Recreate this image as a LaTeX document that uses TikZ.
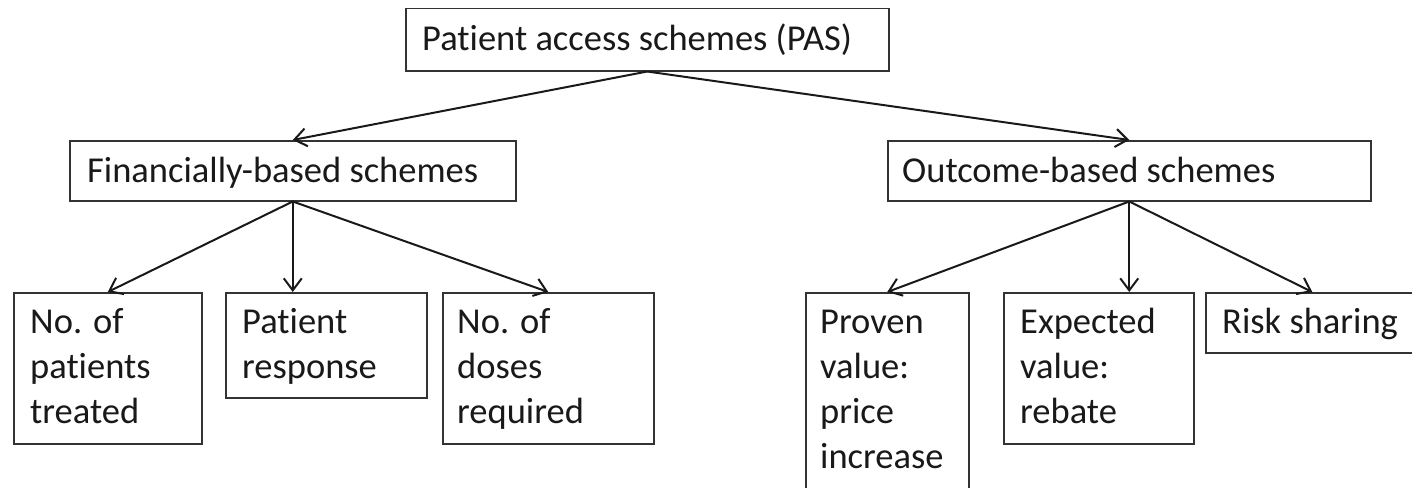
\documentclass[tikz,border=0pt]{standalone}
\usepackage{fontspec}
\setmainfont[Ligatures=NoCommon]{Carlito}
\usetikzlibrary{arrows.meta,calc}

% Box given by its corners (x1,y1) and (x2,y2), y measured downwards
\newcommand\schemebox[5]{%
  \node[frame, minimum width={(#4-#2)*1pt}, minimum height={(#5-#3)*1pt}] (#1) at (#2,#3) {};}

\begin{document}
\begin{tikzpicture}[x=1pt, y=-1pt,
  frame/.style={draw=black!80, line width=1.5pt, anchor=north west, inner sep=0pt, fill=white},
  % labels hang from the top of a strut, so the first baseline sits 31.5pt lower
  lbl/.style={anchor=north west, inner sep=0pt, align=left,
    font=\fontsize{36.5pt}{45pt}\selectfont, text=black!90},
  arr/.style={draw=black!90, line width=2pt,
    -{Straight Barb[length=12pt, width=18pt, line width=2pt]}}]

\path[use as bounding box] (0,0) rectangle (1412,487);
\clip (0,0) rectangle (1412,487);

% top level
\schemebox{pas}{405}{8}{888}{70}
\node[lbl] (pasT) at ($(pas.north west)+(17,10.5)$) {\strut Patient access schemes (PAS)};

% second level
\schemebox{fin}{69}{140}{515}{200}
\node[lbl] (finT) at ($(fin.north west)+(18,10.5)$) {\strut Financially-based schemes};
\schemebox{out}{887}{140}{1370}{200}
\node[lbl] (outT) at ($(out.north west)+(15,10.5)$) {\strut Outcome-based schemes};

% financially-based branches
\schemebox{b1}{13}{292}{201}{443}
\node[lbl] (b1T) at ($(b1.north west)+(17,9.5)$) {\strut No. of\\patients\\treated};
\schemebox{b2}{225}{292}{426}{397}
\node[lbl] (b2T) at ($(b2.north west)+(17,9.5)$) {\strut Patient\\response};
\schemebox{b3}{442}{292}{653}{443}
\node[lbl] (b3T) at ($(b3.north west)+(15,9.5)$) {\strut No. of\\doses\\required};

% outcome-based branches
\schemebox{b4}{805}{292}{968}{495}
\node[lbl] (b4T) at ($(b4.north west)+(15,9.5)$) {\strut Proven\\value:\\price\\increase};
\schemebox{b5}{1003}{292}{1193}{443}
\node[lbl] (b5T) at ($(b5.north west)+(17,9.5)$) {\strut Expected\\value:\\rebate};
\schemebox{b6}{1205}{292}{1418}{352}
\node[lbl] (b6T) at ($(b6.north west)+(17,9.5)$) {\strut Risk sharing};

% connectors
\draw[arr] (pas.south) -- (fin.north);
\draw[arr] (pas.south) -- (out.north);
\draw[arr] (fin.south) -- (b1.north);
\draw[arr] (fin.south) -- (fin.south |- b2.north);
\draw[arr] (fin.south) -- (b3.north);
\draw[arr] (out.south) -- (b4.north);
\draw[arr] (out.south) -- (out.south |- b5.north);
\draw[arr] (out.south) -- (b6.north);
\end{tikzpicture}
\end{document}
